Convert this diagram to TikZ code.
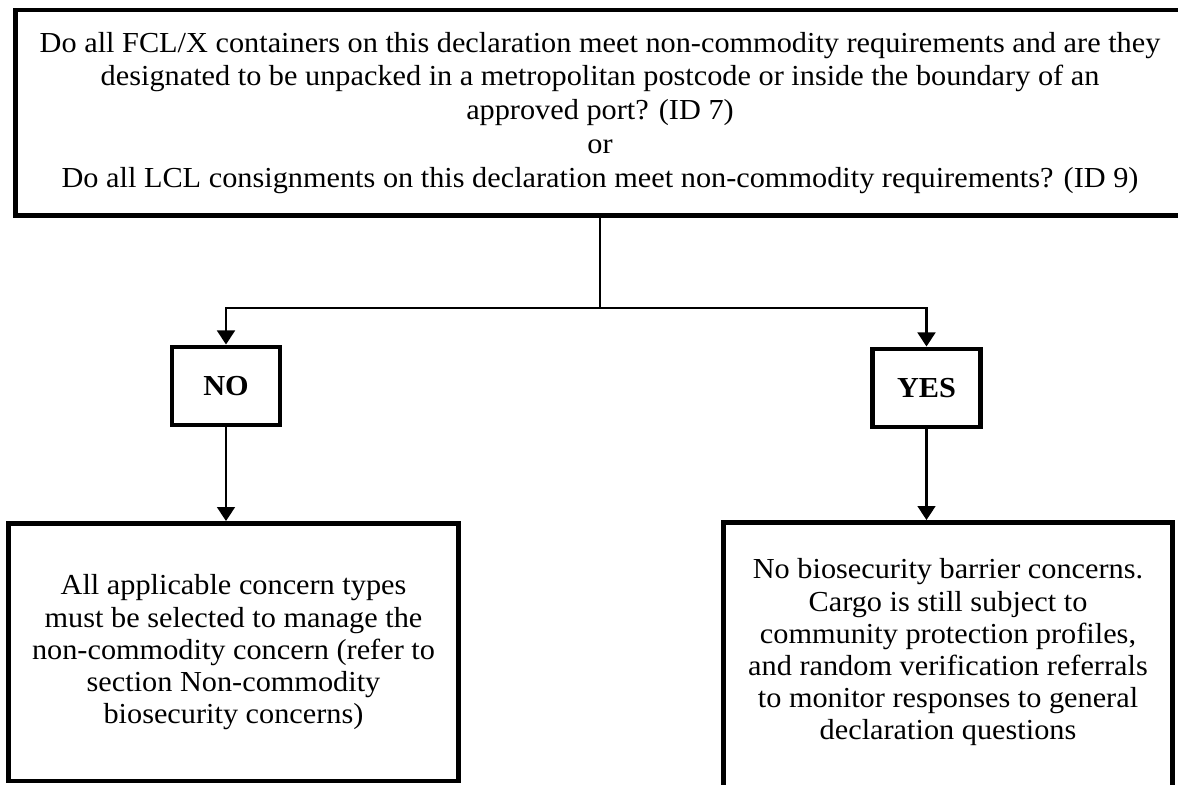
\documentclass[tikz,border=0pt]{standalone}
\usepackage{fontspec}
\setmainfont[FakeStretch=1.045]{Liberation Serif}
\usetikzlibrary{arrows.meta}

\tikzset{
  qbox/.style={draw, line width=2.8pt, inner sep=0pt, align=center,
    font=\fontsize{16.5}{19.2}\selectfont},
  ansbox/.style={draw, line width=2.8pt, inner sep=0pt, minimum width=2.16cm,
    minimum height=1.56cm, font=\fontsize{16.5}{19}\selectfont\bfseries},
  actbox/.style={draw, line width=2.8pt, inner sep=0pt, align=center,
    font=\fontsize{16.5}{18.3}\selectfont},
  flow/.style={line width=1.7pt, -{Triangle[width=10pt,length=8pt]}}
}

\begin{document}
\begin{tikzpicture}[x=0.02cm, y=-0.02cm]
        \useasboundingbox (0,0) rectangle (1178,785);
        % question
        \node[qbox, minimum width=23.39cm, minimum height=4.11cm] (quest) at (600,112.75) {Do all FCL/X containers on this declaration meet non-commodity requirements and are they\\ designated to be unpacked in a metropolitan postcode or inside the boundary of an\\ approved port? (ID 7)\\ or\\ Do all LCL consignments on this declaration meet non-commodity requirements? (ID 9)};
        % answers
        \node[ansbox] (no) at (226,386) {NO};
        \node[ansbox] (yes) at (926.5,388) {YES};
        % actions
        \node[actbox, minimum width=9cm, minimum height=5.15cm] (noact) at (233.5,652.25) {All applicable concern types\\ must be selected to manage the\\ non-commodity concern (refer to\\ section Non-commodity\\ biosecurity concerns)};
        \node[actbox, minimum width=8.98cm, minimum height=5.55cm, text depth=0.48cm] (yesact) at (948,661.25) {No biosecurity barrier concerns.\\ Cargo is still subject to\\ community protection profiles,\\ and random verification referrals\\ to monitor responses to general\\ declaration questions};
        % connectors
        \coordinate (split) at (600,308);
        \draw[line width=1.7pt] (quest.south) -- (split);
        \draw[flow] (split) -| (no.north);
        \draw[flow] (split) -| (yes.north);
        \draw[flow] (no.south) -- (no.south |- noact.north);
        \draw[flow] (yes.south) -- (yes.south |- yesact.north);
\end{tikzpicture}
\end{document}
